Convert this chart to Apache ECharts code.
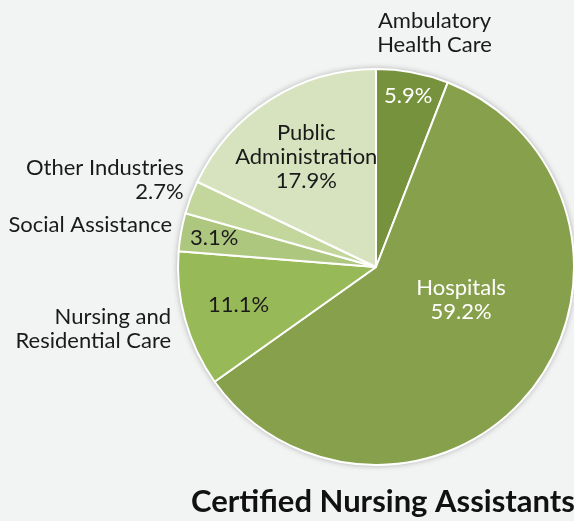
<!DOCTYPE html>
<html>
<head>
<meta charset="utf-8">
<script src="https://cdn.jsdelivr.net/npm/echarts@6/dist/echarts.min.js"></script>
<style>
  html, body { margin: 0; padding: 0; background: #f2f3f3; }
  #chart { width: 574px; height: 521px; }
</style>
</head>
<body>
<div id="chart"></div>
<script>
var categories = ["Ambulatory Health Care", "Hospitals", "Nursing and Residential Care",
  "Social Assistance", "Other Industries", "Public Administration"];
var shares = [5.9, 59.2, 11.1, 3.1, 2.7, 17.9];
// text shown inside the slice / outside the slice ("" = none)
var innerText = ["5.9%", "Hospitals\n59.2%", "11.1%", "3.1%", "", "Public\nAdministration\n17.9%"];
var outerText = ["Ambulatory\nHealth Care", "", "Nursing and\nResidential Care",
  "Social Assistance", "Other Industries\n2.7%", ""];
var colors = ["#76923c", "#87a04b", "#98b958", "#aec77f", "#c3d69b", "#d7e3bf"];

var cx = 376, cy = 267, R = 198;
// label placement: radius factor along slice mid angle + nudge
var inPlace = [
  { f: 0.88, dx: 0, dy: 0 },
  { f: 0.5, dx: 7, dy: -28 },
  { f: 0.72, dx: 0, dy: 0 },
  { f: 0.83, dx: 0, dy: 0 },
  null,
  { f: 0.66, dx: 0, dy: 0 }
];
var outPlace = [
  { f: 1, dx: 22, dy: -39, align: "center" },
  null,
  { f: 1, dx: -14, dy: 9, align: "right" },
  { f: 1, dx: -9, dy: -7, align: "right" },
  { f: 1, dx: -7, dy: -17, align: "right" },
  null
];

var total = shares.reduce(function (a, b) { return a + b; }, 0);
var midAngles = [];
var acc = 0;
shares.forEach(function (v) {
  midAngles.push((acc + v / 2) / total * 2 * Math.PI);
  acc += v;
});

function place(i, p) {
  var a = midAngles[i];
  return {
    x: cx + R * p.f * Math.sin(a) + p.dx,
    y: cy - R * p.f * Math.cos(a) + p.dy
  };
}

var FONT = "Lato, 'Noto Sans', sans-serif";

var myChart = echarts.init(document.getElementById("chart"));
var option = {
  backgroundColor: "#f2f3f3",
  animation: false,
  title: {
    text: "Certified Nursing Assistants",
    left: 186,
    top: 481,
    textStyle: { fontFamily: FONT, fontSize: 31, fontWeight: "bold", color: "#111" }
  },
  series: [
    {
      // soft shadow ring under the pie
      type: "pie",
      silent: true,
      center: [cx, cy],
      radius: [0, R],
      z: 1,
      label: { show: false },
      labelLine: { show: false },
      itemStyle: { color: "#dfe0e0", shadowBlur: 6, shadowColor: "rgba(0,0,0,0.35)" },
      data: [{ value: 1 }]
    },
    {
      type: "pie",
      silent: true,
      center: [cx, cy],
      radius: [0, R],
      startAngle: 90,
      clockwise: true,
      z: 2,
      itemStyle: { borderColor: "#ffffff", borderWidth: 2 },
      label: {
        position: "inside",
        fontFamily: FONT,
        fontSize: 22,
        lineHeight: 24,
        overflow: "none",
        formatter: function (p) { return innerText[p.dataIndex]; }
      },
      labelLine: { show: false },
      labelLayout: function (params) {
        var p = inPlace[params.dataIndex];
        if (!p) return {};
        var pt = place(params.dataIndex, p);
        return { x: pt.x, y: pt.y, align: "center", verticalAlign: "middle" };
      },
      data: categories.map(function (c, i) {
        return {
          name: c,
          value: shares[i],
          itemStyle: { color: colors[i] },
          label: {
            show: innerText[i] !== "",
            color: i < 2 ? "#ffffff" : "#1a1a1a"
          }
        };
      })
    },
    {
      type: "pie",
      silent: true,
      center: [cx, cy],
      radius: [0, R],
      startAngle: 90,
      clockwise: true,
      z: 3,
      itemStyle: { color: "transparent", borderWidth: 0 },
      label: {
        position: "outside",
        alignTo: "none",
        overflow: "none",
        fontFamily: FONT,
        fontSize: 22,
        lineHeight: 24,
        color: "#1a1a1a",
        formatter: function (p) { return outerText[p.dataIndex]; }
      },
      labelLine: { show: false },
      labelLayout: function (params) {
        var p = outPlace[params.dataIndex];
        if (!p) return {};
        var pt = place(params.dataIndex, p);
        return { x: pt.x, y: pt.y, align: p.align, verticalAlign: "middle" };
      },
      data: categories.map(function (c, i) {
        return {
          name: c,
          value: shares[i],
          label: { show: outerText[i] !== "", align: outPlace[i] ? outPlace[i].align : "center" }
        };
      })
    }
  ]
};

option && myChart.setOption(option);
</script>
</body>
</html>
